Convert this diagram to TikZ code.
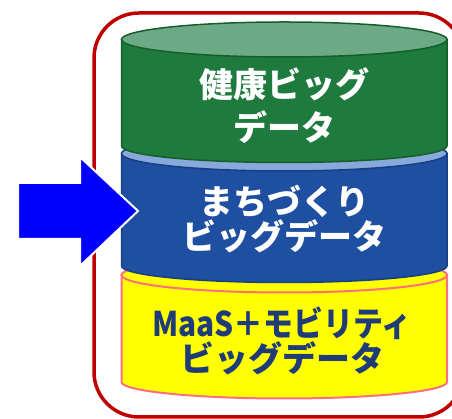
\documentclass[tikz,border=0pt]{standalone}
\usepackage{fontspec}
\usepackage{graphicx}
\newfontfamily\jpfont{Noto Sans CJK JP}
\usetikzlibrary{positioning}

\definecolor{frame}{HTML}{C00000}
\definecolor{healthbody}{HTML}{1E7A3D}
\definecolor{healthtop}{HTML}{6CAA86}
\definecolor{healthline}{HTML}{155E2C}
\definecolor{townbody}{HTML}{1F4FA0}
\definecolor{towntop}{HTML}{88A9DC}
\definecolor{townline}{HTML}{183E84}
\definecolor{maasbody}{HTML}{FFFF00}
\definecolor{maasline}{HTML}{FF6F7C}
\definecolor{maastext}{HTML}{1F3C78}
\definecolor{pointer}{HTML}{0000FF}

\tikzset{
  frame/.style={
    draw=frame,
    line width=3.5pt,
    rounded corners=45pt
  },
  health/.style={fill=healthbody, draw=healthline, line width=1.5pt},
  healthlid/.style={fill=healthtop, draw=healthline, line width=1.5pt},
  town/.style={fill=townbody, draw=townline, line width=1.5pt},
  townlid/.style={fill=towntop, draw=townline, line width=1.5pt},
  maas/.style={fill=maasbody, draw=maasline, line width=2pt},
  maaslid/.style={fill=maasbody, draw=maasline, line width=2pt},
  label/.style={
    align=center,
    inner sep=0pt,
    font=\jpfont\bfseries\fontsize{34}{35}\selectfont
  },
  pointer/.style={
    fill=pointer,
    draw=white,
    line width=2pt,
    line join=miter
  }
}

% one slice of the stack: x left, x right, y of lid, y of base, style
\newcommand\drum[5]{
  \path[#5] (#1,#3) -- (#1,#4)
    arc[start angle=180, end angle=360, x radius={(#2-#1)/2}, y radius=16.5]
    -- (#2,#3) -- cycle;
  \path[#5lid] ({(#1+#2)/2},#3) ellipse[x radius={(#2-#1)/2}, y radius=17.5];
}

\begin{document}
\begin{tikzpicture}[x=1pt,y=1pt]
  \useasboundingbox (0,0) rectangle (452,419);
  \clip (0,0) rectangle (452,419);

  \draw[frame] (94,2) rectangle (464,406);

  \drum{121.5}{447}{144}{37}{maas}
  \drum{121.5}{447}{265.5}{153}{town}
  \drum{121.5}{447}{379.5}{273}{health}

  \node[label, white, font=\jpfont\bfseries\fontsize{34}{43}\selectfont]
    (health text) at (284,313) {健康ビッグ\\データ};
  \node[label, white] (town text) at (284,199.5) {まちづくり\\ビッグデータ};
  \node[label, maastext] (maas text) at (282,78.5)
    {\scalebox{0.88}[1]{MaaS＋モビリティ}\\ビッグデータ};

  \draw[pointer] (18,236) -- (80,236) -- (80,262) -- (138,208)
    -- (80,153) -- (80,180) -- (18,180) -- cycle;
\end{tikzpicture}
\end{document}
